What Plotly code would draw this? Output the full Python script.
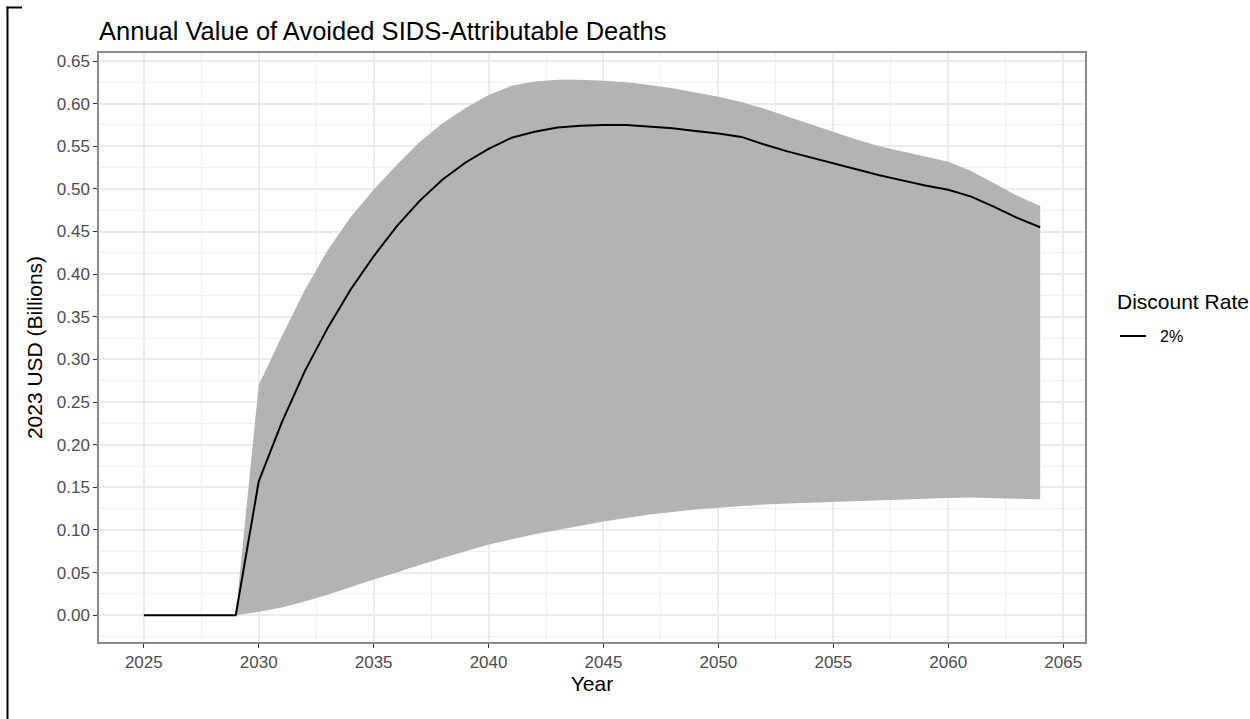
import plotly.graph_objects as go

years = list(range(2025, 2065))

central = [0, 0, 0, 0, 0,
           0.157, 0.226, 0.286, 0.337, 0.382, 0.421, 0.456, 0.486, 0.511, 0.531,
           0.547, 0.560, 0.567, 0.572, 0.574, 0.575, 0.575, 0.573, 0.571, 0.568,
           0.565, 0.561, 0.552, 0.544, 0.537, 0.530, 0.523, 0.516, 0.510, 0.504,
           0.499, 0.491, 0.479, 0.466, 0.455]

upper = [0, 0, 0, 0, 0,
         0.270, 0.327, 0.381, 0.428, 0.467, 0.499, 0.528, 0.555, 0.577, 0.595,
         0.610, 0.621, 0.626, 0.628, 0.628, 0.627, 0.625, 0.622, 0.618, 0.613,
         0.608, 0.602, 0.594, 0.585, 0.576, 0.567, 0.558, 0.550, 0.544, 0.538,
         0.532, 0.521, 0.506, 0.492, 0.480]

lower = [0, 0, 0, 0, 0,
         0.004, 0.009, 0.016, 0.024, 0.033, 0.042, 0.050, 0.059, 0.067, 0.075,
         0.083, 0.089, 0.095, 0.100, 0.105, 0.110, 0.114, 0.118, 0.121, 0.124,
         0.126, 0.128, 0.130, 0.131, 0.132, 0.133, 0.134, 0.135, 0.136, 0.137,
         0.1375, 0.138, 0.137, 0.1365, 0.136]

series_name = "2%"
legend_title = "Discount Rate"
chart_title = "Annual Value of Avoided SIDS-Attributable Deaths"
x_title = "Year"
y_title = "2023 USD (Billions)"

FONT = "Arial, 'Liberation Sans', sans-serif"

fig = go.Figure()

fig.add_trace(go.Scatter(x=years, y=lower, mode="lines", line=dict(width=0, color="rgba(0,0,0,0)"),
                         showlegend=False, hoverinfo="skip"))
fig.add_trace(go.Scatter(x=years, y=upper, mode="lines", line=dict(width=0, color="rgba(0,0,0,0)"),
                         fill="tonexty", fillcolor="rgb(179,179,179)",
                         showlegend=False, hoverinfo="skip"))
fig.add_trace(go.Scatter(x=years, y=central, mode="lines", name=series_name,
                         line=dict(color="black", width=2), showlegend=False))

W, H = 1250, 719
ml, mr, mt, mb = 99, 165, 53, 77
pw = W - ml - mr
ph = H - mt - mb

def px_x(p):
    return (p - ml) / pw

def px_y(p):
    return (H - mb - p) / ph

fig.update_layout(
    width=W, height=H,
    margin=dict(l=ml, r=mr, t=mt, b=mb),
    paper_bgcolor="white", plot_bgcolor="white",
    font=dict(family=FONT, color="black"),
    title=dict(text=chart_title, x=0, xref="paper", xanchor="left",
               y=1 - 31 / H, yref="container", yanchor="middle",
               font=dict(size=25.5, color="black")),
    showlegend=False,
    shapes=[
        dict(type="line", xref="paper", yref="paper", x0=px_x(7.5), x1=px_x(7.5),
             y0=px_y(6.5), y1=px_y(725), line=dict(color="black", width=2)),
        dict(type="line", xref="paper", yref="paper", x0=px_x(6.5), x1=px_x(22),
             y0=px_y(7.5), y1=px_y(7.5), line=dict(color="black", width=2)),
        # legend key
        dict(type="line", xref="paper", yref="paper", x0=px_x(1120), x1=px_x(1146),
             y0=px_y(336), y1=px_y(336), line=dict(color="black", width=2)),
    ],
    annotations=[
        dict(text=legend_title, xref="paper", yref="paper", x=px_x(1115), y=px_y(301),
             xanchor="left", yanchor="middle", showarrow=False,
             font=dict(size=21, color="black")),
        dict(text=series_name, xref="paper", yref="paper", x=px_x(1158), y=px_y(336),
             xanchor="left", yanchor="middle", showarrow=False,
             font=dict(size=16, color="black")),
    ],
)

fig.update_xaxes(
    range=[2023.05, 2065.95], tickmode="linear", tick0=2025, dtick=5,
    showgrid=True, gridcolor="#EBEBEB", gridwidth=1.5,
    minor=dict(tickmode="linear", tick0=2022.5, dtick=2.5, showgrid=True, gridcolor="#EFEFEF", gridwidth=1),
    ticks="outside", ticklen=4, tickcolor="#333333", tickwidth=1,
    tickfont=dict(size=17, color="#4D4D4D"),
    showline=True, linecolor="#8A8A8A", linewidth=1.5, mirror=True,
    zeroline=False,
    title=dict(text=x_title, font=dict(size=21, color="black"), standoff=0),
)
fig.update_yaxes(
    range=[-0.0314, 0.6594], tickmode="linear", tick0=0, dtick=0.05, tickformat=".2f",
    showgrid=True, gridcolor="#EBEBEB", gridwidth=1.5,
    minor=dict(tickmode="linear", tick0=0.025, dtick=0.025, showgrid=True, gridcolor="#EFEFEF", gridwidth=1),
    ticks="outside", ticklen=4, tickcolor="#333333", tickwidth=1,
    tickfont=dict(size=17, color="#4D4D4D"),
    showline=True, linecolor="#8A8A8A", linewidth=1.5, mirror=True,
    zeroline=False,
    title=dict(text=y_title, font=dict(size=21, color="black"), standoff=8),
)

fig.write_html("out.html")
